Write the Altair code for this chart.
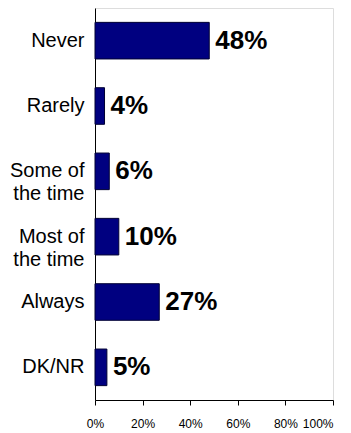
import altair as alt
import pandas as pd

categories = ["Never", "Rarely", "Some of\nthe time", "Most of\nthe time", "Always", "DK/NR"]
values = [48, 4, 6, 10, 27, 5]
value_labels = [f"{v}%" for v in values]
x_ticks = [0, 20, 40, 60, 80, 100]

df = pd.DataFrame({"cat": categories, "val": values, "lab": value_labels})

y_enc = alt.Y(
    "cat:N",
    sort=categories,
    scale=alt.Scale(paddingInner=0.44, paddingOuter=0.22),
    axis=alt.Axis(
        title=None,
        ticks=False,
        labelExpr="split(datum.label, '\\n')",
        labelFont="Liberation Sans",
        labelFontSize=20,
        labelLineHeight=23,
        labelColor="black",
        labelPadding=11,
        domainColor="black",
        domainWidth=1,
        labelLimit=200,
    ),
)

x_enc = alt.X(
    "val:Q",
    scale=alt.Scale(domain=[0, 100], nice=False),
    axis=alt.Axis(
        title=None,
        values=x_ticks,
        labelExpr="datum.value + '%'",
        labelFont="Liberation Sans",
        labelFontSize=12,
        labelColor="black",
        labelFlush=False,
        labelOverlap=False,
        labelAlign=alt.condition("datum.value == 100", alt.value("right"), alt.value("center")),
        tickColor="black",
        tickSize=5,
        labelPadding=13,
        domainColor="black",
        grid=False,
    ),
)

bars = alt.Chart(df).mark_bar(color="#000080", stroke="#000033", strokeWidth=1).encode(
    x=x_enc, y=y_enc
)

text = alt.Chart(df).mark_text(
    align="left", baseline="middle", dx=6, font="Liberation Sans",
    fontSize=26, fontWeight="bold", color="black"
).encode(
    x="val:Q",
    y=alt.Y("cat:N", sort=categories),
    text="lab:N",
)

chart = (
    alt.layer(bars, text)
    .properties(
        width=238,
        height=392,
        autosize=alt.AutoSizeParams(type="none"),
        padding={"left": 87, "top": 0, "right": 10, "bottom": 30},
    )
    .configure_view(stroke="white", strokeWidth=0, strokeOpacity=0, fill="white")
    .configure_axis(grid=False)
    .configure(background="white")
)

chart.save("out.html", embed_options={"renderer": "svg", "actions": False})
